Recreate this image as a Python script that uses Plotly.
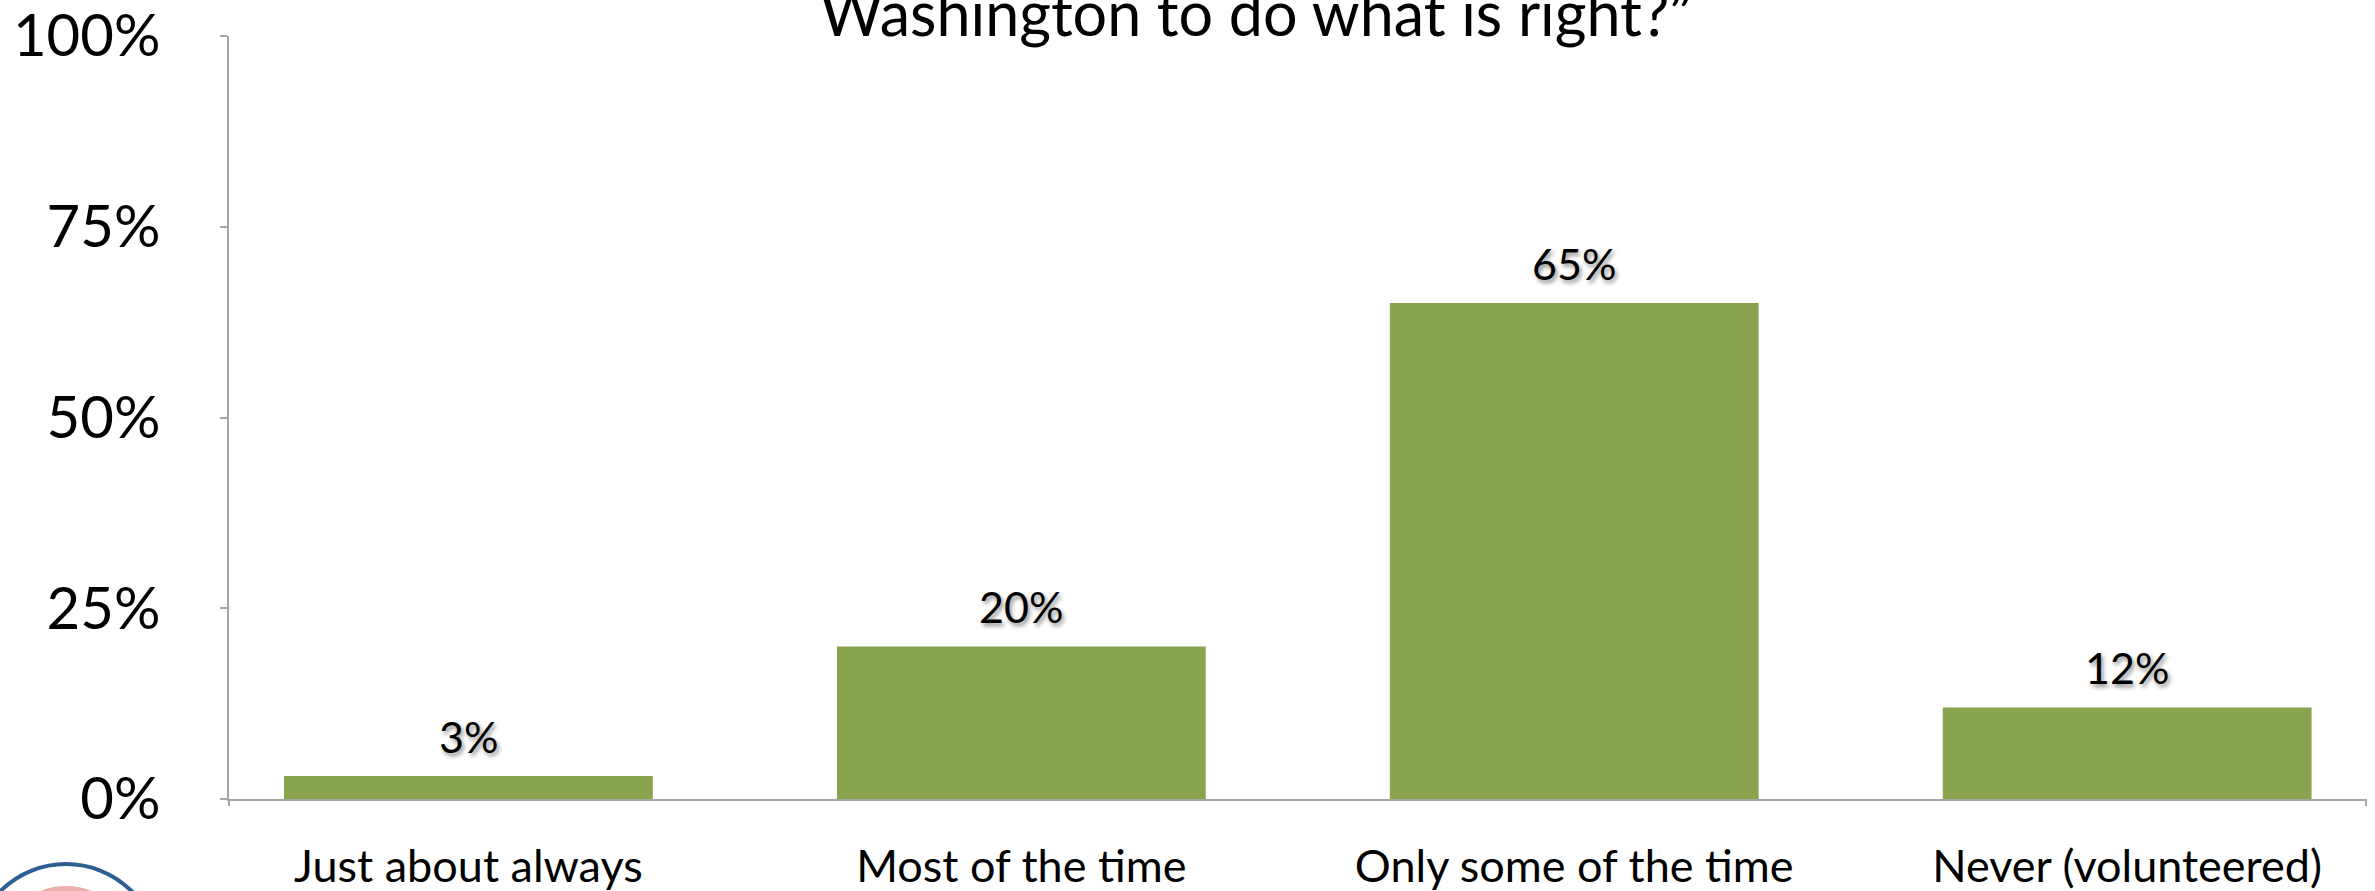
import plotly.graph_objects as go

categories = ['Just about always', 'Most of the time', 'Only some of the time', 'Never (volunteered)']
shares = [0.03, 0.20, 0.65, 0.12]
share_labels = ['3%', '20%', '65%', '12%']
y_tick_vals = [0, 0.25, 0.5, 0.75, 1.0]
y_tick_text = ['0%', '25%', '50%', '75%', '100%']
title_line = 'Washington to do what is right?\u201d'

W, H = 2375, 891
L, R, T, B = 229, 9, 36, 92
plot_w, plot_h = W - L - R, H - T - B
FONT = 'Lato, Calibri, sans-serif'
BAR = '#89A34F'
AXIS = '#A6A6A6'


def px_x(px):
    return (px - L) / plot_w


def px_y(py):
    return (H - B - py) / plot_h


fig = go.Figure(go.Bar(
    x=categories,
    y=shares,
    width=0.667,
    marker=dict(color=BAR, line=dict(width=0)),
    hoverinfo='skip',
))

# value labels above the bars, with a soft shadow like the original
for cat, val, lab in zip(categories, shares, share_labels):
    fig.add_annotation(
        x=cat, y=val, text=lab, showarrow=False,
        yanchor='bottom', yshift=12,
        font=dict(family=FONT, size=43, color='black',
                  shadow='2px 3px 4px rgba(0,0,0,0.45)'),
    )

# only the last line of the title is inside the frame (top of it is cropped)
fig.add_annotation(
    x=px_x(1256), y=px_y(51), xref='paper', yref='paper',
    text=title_line, showarrow=False, xanchor='center', yanchor='bottom',
    font=dict(family=FONT, size=61, color='black'),
)

# little tick marks hanging below both ends of the category axis
for xp in (0, 1):
    fig.add_shape(type='line', xref='paper', yref='paper',
                  x0=xp, x1=xp, y0=0, y1=px_y(H - B + 7),
                  line=dict(color=AXIS, width=2))

# cropped seal in the lower left corner
fig.add_shape(type='circle', xref='paper', yref='paper',
              x0=px_x(-27), x1=px_x(159), y0=px_y(1050), y1=px_y(864),
              line=dict(color='#2F5F90', width=4))
fig.add_shape(type='circle', xref='paper', yref='paper',
              x0=px_x(3), x1=px_x(129), y0=px_y(1015), y1=px_y(889),
              line=dict(color='#EBB0AD', width=6))

fig.update_layout(
    width=W, height=H,
    margin=dict(l=L, r=R, t=T, b=B, pad=0, autoexpand=False),
    paper_bgcolor='white', plot_bgcolor='white',
    showlegend=False,
    xaxis=dict(
        range=[-0.433, 3.432], automargin=False,
        showgrid=False, zeroline=False,
        showline=True, linecolor=AXIS, linewidth=2,
        ticks='', ticklabelstandoff=27, ticklabeloverflow='allow',
        tickfont=dict(family=FONT, size=45, color='black'),
    ),
    yaxis=dict(
        range=[0, 1], automargin=False,
        tickvals=y_tick_vals, ticktext=y_tick_text,
        showgrid=False, zeroline=False,
        showline=True, linecolor=AXIS, linewidth=2,
        ticks='outside', ticklen=7, tickcolor=AXIS, tickwidth=2,
        ticklabelstandoff=48, ticklabeloverflow='allow',
        tickfont=dict(family=FONT, size=58, color='black'),
    ),
)

# drop the browser's default body margin so the figure sits at the page corner
fig.write_html('out.html', config={'displayModeBar': False},
               post_script="document.body.style.margin='0';")
